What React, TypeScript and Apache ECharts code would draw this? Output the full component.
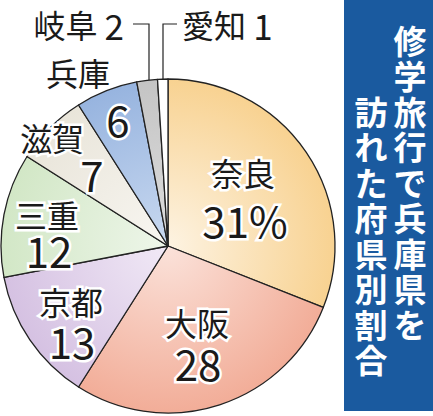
import React, { useEffect, useRef } from 'react'
import * as echarts from 'echarts'

// 修学旅行で兵庫県を訪れた府県別割合 (%)
const prefectures = ['奈良', '大阪', '京都', '三重', '滋賀', '兵庫', '岐阜', '愛知']
const shares = [31, 28, 13, 12, 7, 6, 2, 1]
const titleRight = '修学旅行で兵庫県を'
const titleLeft = '訪れた府県別割合'

// slice fills, [centre, rim]
const sliceColors = [
  ['#fdf3e2', '#f8d291'],
  ['#fbe2da', '#f2ad98'],
  ['#f1e9f6', '#d5c1e2'],
  ['#eef6ea', '#d2e7c6'],
  ['#f8f6f1', '#e9e5da'],
  ['#c9d9f0', '#97b4df'],
  ['#dedede', '#c4c4c4'],
  ['#ffffff', '#ffffff'],
]

const CX = 168
const CY = 246
const R = 167
const FONT = '"Noto Sans CJK JP", "Noto Sans", sans-serif'
const INK = '#1a1a1a'

// where the number labels sit
const valueSpots = [
  { x: 245, y: 219, align: 'center' },
  { x: 198, y: 362, align: 'center' },
  { x: 72, y: 340, align: 'center' },
  { x: 49, y: 249, align: 'center' },
  { x: 92, y: 173, align: 'center' },
  { x: 118, y: 118, align: 'center' },
  { x: 124, y: 24, align: 'right' },
  { x: 182, y: 24, align: 'left' },
]
// where the name labels sit (null: name is written with the number)
const nameSpots: ({ x: number; y: number } | null)[] = [
  { x: 243, y: 172 },
  { x: 197, y: 322 },
  { x: 71, y: 301 },
  { x: 47, y: 214 },
  { x: 52, y: 137 },
  { x: 78, y: 72 },
  null,
  null,
]

const halo = { color: INK, fontFamily: FONT, textBorderColor: '#fff', textBorderWidth: 5 }

function App() {
  const ref = useRef<HTMLDivElement>(null)

  useEffect(() => {
    const chart = echarts.init(ref.current as HTMLDivElement, undefined, { renderer: 'svg' })

    const fills = sliceColors.map(([inner, outer]) => ({
      type: 'radial',
      x: CX,
      y: CY,
      r: R,
      global: true,
      colorStops: [
        { offset: 0, color: inner },
        { offset: 1, color: outer },
      ],
    }))

    const pieBase = {
      type: 'pie',
      center: [CX, CY],
      radius: [0, R],
      startAngle: 90,
      clockwise: true,
      avoidLabelOverlap: false,
      labelLine: { show: false },
    }

    chart.setOption({
      animation: false,
      series: [
        {
          ...pieBase,
          itemStyle: { borderColor: '#222', borderWidth: 1.3 },
          data: shares.map((v, i) => ({
            name: prefectures[i],
            value: v,
            itemStyle: { color: fills[i] },
          })),
          label: {
            show: true,
            position: 'inside',
            overflow: 'none',
            fontSize: 32,
            ...halo,
            formatter: (p: any) => {
              const i = p.dataIndex
              const v = `${shares[i]}${i === 0 ? '%' : ''}`
              return nameSpots[i] ? `{v|${v}}` : `{n|${prefectures[i]}} {w|${v}}`
            },
            rich: {
              v: { fontSize: 42, ...halo },
              n: { fontSize: 32, ...halo },
              w: { fontSize: 35, ...halo },
            },
          },
          labelLayout: (p: any) => {
            const s = valueSpots[p.dataIndex]
            return { x: s.x, y: s.y, align: s.align, verticalAlign: 'middle' }
          },
        },
        {
          ...pieBase,
          silent: true,
          itemStyle: { color: 'rgba(0,0,0,0)', borderWidth: 0 },
          data: shares.map((v, i) => ({
            name: prefectures[i],
            value: v,
            label: { show: nameSpots[i] != null },
          })),
          label: {
            position: 'inside',
            overflow: 'none',
            fontSize: 32,
            ...halo,
            formatter: (p: any) => prefectures[p.dataIndex],
          },
          labelLayout: (p: any) => {
            const s = nameSpots[p.dataIndex]
            if (!s) return {}
            return { x: s.x, y: s.y, align: 'center', verticalAlign: 'middle' }
          },
        },
      ],
      graphic: [
        {
          type: 'polyline',
          shape: { points: [[133, 24], [149, 24], [149, 90]] },
          style: { stroke: '#222', lineWidth: 1.2, fill: 'none' },
        },
        {
          type: 'polyline',
          shape: { points: [[177, 24], [163, 24], [163, 90]] },
          style: { stroke: '#222', lineWidth: 1.2, fill: 'none' },
        },
        {
          type: 'rect',
          shape: { x: 344, y: 0, width: 89, height: 411 },
          style: { fill: '#1a5a9f' },
        },
        {
          type: 'text',
          x: 410,
          y: 22,
          style: {
            text: titleRight.split('').join('\n'),
            fill: '#fff',
            font: `bold 33px ${FONT}`,
            lineHeight: 35.5,
            align: 'center',
            verticalAlign: 'top',
          },
        },
        {
          type: 'text',
          x: 371,
          y: 93,
          style: {
            text: titleLeft.split('').join('\n'),
            fill: '#fff',
            font: `bold 33px ${FONT}`,
            lineHeight: 35.5,
            align: 'center',
            verticalAlign: 'top',
          },
        },
      ],
    })

    return () => {
      chart.dispose()
    }
  }, [])

  return (
    <div
      ref={ref}
      style={{ position: 'fixed', left: 0, top: 0, width: 433, height: 416, background: '#fff' }}
    />
  )
}

export default App
